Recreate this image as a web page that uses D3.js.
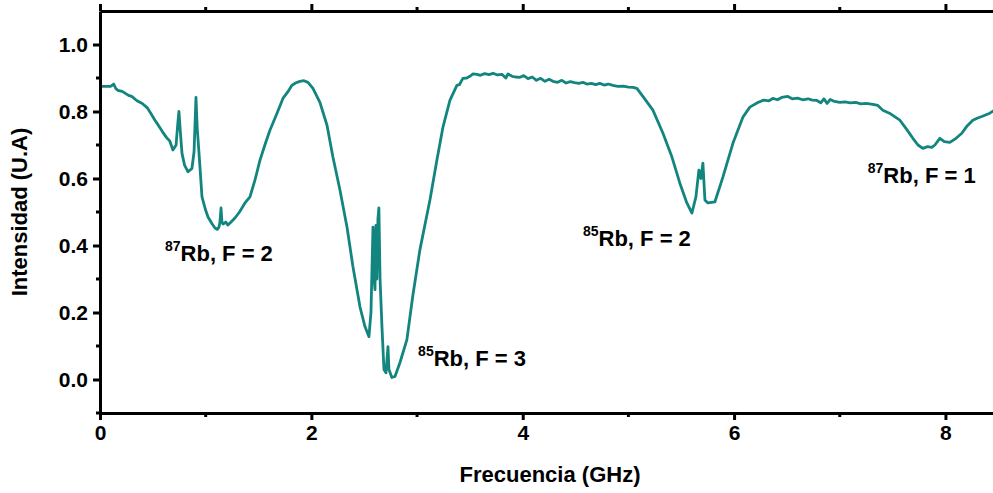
<!DOCTYPE html>
<html>
<head>
<meta charset="utf-8">
<script src="https://cdn.jsdelivr.net/npm/d3@7"></script>
<style>
  html, body { margin: 0; padding: 0; background: #fff; }
  svg { display: block; font-family: "Liberation Sans", Arial, sans-serif; }
  .tick text { font-weight: bold; }
</style>
</head>
<body>
<svg id="chart" width="993" height="493"></svg>
<script>
// spectrum (GHz, arbitrary units), one row per stretch of the trace
const freq = [
  0.00, 0.10, 0.13, 0.15, 0.17, 0.21, 0.27, 0.30, 0.35, 0.40, 0.45, 0.48, 0.52, 0.55, 0.59, 0.63, 0.66, 0.69, 0.72,
  0.735, 0.747, 0.76, 0.776, 0.80, 0.833, 0.87, 0.89, 0.899, 0.908, 0.92, 0.937,
  0.965, 1.00, 1.022, 1.06, 1.088, 1.11, 1.126, 1.135, 1.145, 1.154, 1.164, 1.19, 1.211, 1.24, 1.277,
  1.32, 1.372, 1.419, 1.466, 1.514, 1.56, 1.608, 1.675, 1.731, 1.78, 1.816, 1.85, 1.892, 1.93, 1.968, 2.015,
  2.081, 2.148, 2.204, 2.271, 2.337, 2.394, 2.46, 2.507, 2.545,
  2.564, 2.583, 2.594, 2.602, 2.611, 2.620, 2.630, 2.639, 2.650, 2.668, 2.687, 2.706, 2.725, 2.734, 2.762, 2.791, 2.838, 2.904,
  2.96, 3.027, 3.122, 3.188, 3.245, 3.311, 3.377, 3.40, 3.434, 3.47, 3.50, 3.53, 3.567,
  3.60, 3.64, 3.68, 3.72, 3.76, 3.803, 3.84, 3.86, 3.90, 3.93, 3.974, 4.01, 4.05, 4.09, 4.13, 4.17, 4.21, 4.25,
  4.286, 4.33, 4.37, 4.41, 4.45, 4.49, 4.53, 4.57, 4.607, 4.65, 4.69, 4.73, 4.77, 4.81, 4.853, 4.90, 4.95, 5.00, 5.043, 5.08,
  5.137, 5.232, 5.327, 5.412, 5.487, 5.553, 5.601, 5.639, 5.667, 5.686, 5.705, 5.724, 5.752, 5.818, 5.894, 5.989, 6.083, 6.149,
  6.225, 6.28, 6.33, 6.367, 6.41, 6.45, 6.509, 6.55, 6.60, 6.65, 6.70, 6.74, 6.783, 6.82, 6.85, 6.88, 6.91, 6.95, 7.001, 7.05, 7.10, 7.15, 7.20, 7.25, 7.313,
  7.36, 7.408, 7.47, 7.569, 7.63, 7.692, 7.74, 7.786, 7.83, 7.871, 7.90, 7.947, 7.99, 8.042, 8.10, 8.155, 8.20, 8.259, 8.30, 8.35, 8.420, 8.46
];
const intensity = [
  0.875, 0.875, 0.882, 0.868, 0.863, 0.860, 0.848, 0.845, 0.832, 0.824, 0.810, 0.795, 0.774, 0.760, 0.740, 0.722, 0.712, 0.685, 0.700,
  0.760, 0.800, 0.740, 0.675, 0.640, 0.620, 0.630, 0.680, 0.760, 0.842, 0.750, 0.675,
  0.545, 0.505, 0.485, 0.465, 0.452, 0.448, 0.455, 0.470, 0.512, 0.470, 0.464, 0.470, 0.461, 0.470, 0.482,
  0.500, 0.527, 0.545, 0.595, 0.655, 0.700, 0.744, 0.795, 0.839, 0.860, 0.878, 0.885, 0.890, 0.892, 0.887, 0.869,
  0.827, 0.759, 0.664, 0.565, 0.455, 0.336, 0.217, 0.158, 0.128,
  0.200, 0.455, 0.300, 0.268, 0.460, 0.300, 0.480, 0.512, 0.300, 0.158, 0.030, 0.020, 0.098, 0.030, 0.006, 0.009, 0.050, 0.119,
  0.250, 0.387, 0.536, 0.655, 0.753, 0.833, 0.878, 0.880, 0.899, 0.900, 0.905, 0.912, 0.911,
  0.908, 0.913, 0.910, 0.914, 0.909, 0.911, 0.900, 0.912, 0.905, 0.903, 0.902, 0.907, 0.898, 0.903, 0.893, 0.899, 0.890, 0.896,
  0.890, 0.887, 0.893, 0.885, 0.889, 0.886, 0.884, 0.887, 0.882, 0.884, 0.880, 0.884, 0.879, 0.882, 0.878, 0.875, 0.876, 0.873, 0.872, 0.869,
  0.845, 0.804, 0.735, 0.664, 0.586, 0.527, 0.497, 0.545, 0.625, 0.600, 0.646, 0.536, 0.527, 0.530, 0.604, 0.705, 0.783, 0.813,
  0.827, 0.834, 0.832, 0.839, 0.835, 0.842, 0.845, 0.838, 0.840, 0.835, 0.838, 0.834, 0.833, 0.826, 0.838, 0.824, 0.836, 0.830, 0.827, 0.829, 0.826, 0.827, 0.823, 0.824, 0.821,
  0.818, 0.804, 0.795, 0.774, 0.748, 0.720, 0.700, 0.690, 0.695, 0.693, 0.700, 0.720, 0.710, 0.708, 0.720, 0.735, 0.755, 0.774, 0.780, 0.786, 0.795, 0.803
];
const peakLabels = [
  { mass: "87", text: "Rb, F = 2", f: 0.615, v: 0.354 },
  { mass: "85", text: "Rb, F = 3", f: 3.01, v: 0.040 },
  { mass: "85", text: "Rb, F = 2", f: 4.57, v: 0.400 },
  { mass: "87", text: "Rb, F = 1", f: 7.265, v: 0.587 }
];
const xTicks = [0, 2, 4, 6, 8];
const xMinor = [1, 3, 5, 7];
const yTicks = [0.0, 0.2, 0.4, 0.6, 0.8, 1.0];
const yMinor = [-0.1, 0.1, 0.3, 0.5, 0.7, 0.9];

const svg = d3.select("#chart");
const margin = { top: 11, right: 0, bottom: 80, left: 100 };
const width = 993, height = 493;

const x = d3.scaleLinear().domain([0, 8.45]).range([margin.left, width - margin.right]);
const y = d3.scaleLinear().domain([-0.1, 1.1]).range([height - margin.bottom, margin.top]);

const teal = "#12857f";

svg.append("clipPath").attr("id", "plot-clip")
  .append("rect")
  .attr("x", margin.left).attr("y", margin.top)
  .attr("width", width - margin.left).attr("height", height - margin.bottom - margin.top);

const data = freq.map((f, i) => ({ f: f, v: intensity[i] }));
const line = d3.line().x(d => x(d.f)).y(d => y(d.v));

svg.append("path")
  .datum(data)
  .attr("clip-path", "url(#plot-clip)")
  .attr("fill", "none")
  .attr("stroke", teal)
  .attr("stroke-width", 2.8)
  .attr("stroke-linejoin", "round")
  .attr("d", line);

// axes
function styleAxis(g, fs) {
  g.select(".domain").attr("stroke", "#000").attr("stroke-width", 3);
  g.selectAll(".tick line").attr("stroke", "#000").attr("stroke-width", 3);
  g.selectAll(".tick text").attr("font-size", fs).attr("fill", "#000");
}

function minorTicks(g, values, horizontal, len) {
  g.append("g").selectAll("line").data(values).join("line")
    .attr("x1", d => horizontal ? x(d) : 0)
    .attr("x2", d => horizontal ? x(d) : len)
    .attr("y1", d => horizontal ? 0 : y(d))
    .attr("y2", d => horizontal ? len : y(d))
    .attr("stroke", "#000").attr("stroke-width", 3);
}

const bottomAxis = svg.append("g")
  .attr("transform", `translate(0,${y(-0.1)})`)
  .call(d3.axisBottom(x).tickValues(xTicks).tickFormat(d3.format("d")).tickSizeInner(7).tickSizeOuter(0).tickPadding(5));
styleAxis(bottomAxis, 21);
minorTicks(bottomAxis, xMinor, true, 4);

const topAxis = svg.append("g")
  .attr("transform", `translate(0,${y(1.1)})`)
  .call(d3.axisTop(x).tickValues(xTicks).tickFormat("").tickSizeInner(7).tickSizeOuter(0));
styleAxis(topAxis, 21);
minorTicks(topAxis, xMinor, true, -4);

const leftAxis = svg.append("g")
  .attr("transform", `translate(${x(0)},0)`)
  .call(d3.axisLeft(y).tickValues(yTicks).tickFormat(d3.format(".1f")).tickSizeInner(7).tickSizeOuter(0).tickPadding(5));
styleAxis(leftAxis, 21);
minorTicks(leftAxis, yMinor, false, -4);

// axis titles
svg.append("text")
  .attr("x", 550).attr("y", 482)
  .attr("text-anchor", "middle")
  .attr("font-size", 22).attr("font-weight", "bold")
  .text("Frecuencia (GHz)");

svg.append("text")
  .attr("transform", `translate(27,${(y(1.1) + y(-0.1)) / 2}) rotate(-90)`)
  .attr("text-anchor", "middle")
  .attr("font-size", 22).attr("font-weight", "bold")
  .text("Intensidad (U.A)");

// peak annotations
const lbl = svg.append("g").selectAll("text").data(peakLabels).join("text")
  .attr("x", d => x(d.f)).attr("y", d => y(d.v))
  .attr("font-weight", "bold").attr("font-size", 22);
lbl.append("tspan").attr("font-size", 14).attr("dy", -10).text(d => d.mass);
lbl.append("tspan").attr("dy", 10).text(d => d.text);
</script>
</body>
</html>
